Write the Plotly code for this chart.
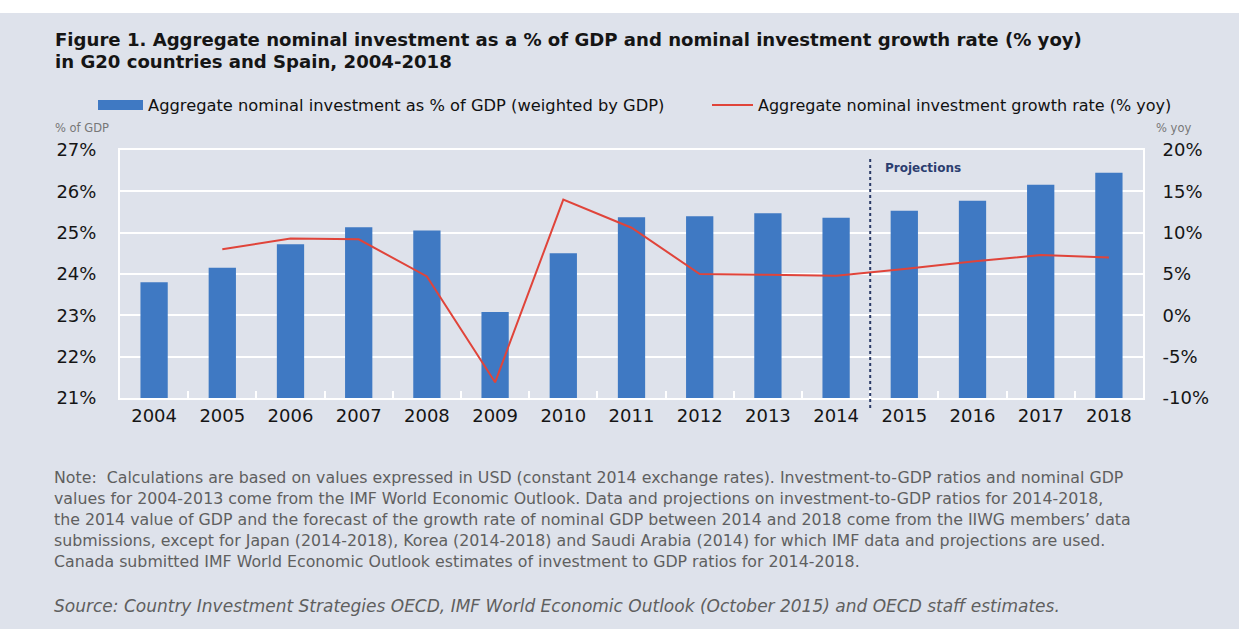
import plotly.graph_objects as go

years = ["2004", "2005", "2006", "2007", "2008", "2009", "2010", "2011",
         "2012", "2013", "2014", "2015", "2016", "2017", "2018"]
invest_pct_gdp = [23.8, 24.15, 24.72, 25.13, 25.05, 23.08, 24.5, 25.37,
                  25.4, 25.47, 25.36, 25.53, 25.77, 26.16, 26.45]
growth_yoy = [None, 8.0, 9.3, 9.2, 4.7, -8.1, 14.0, 10.6,
              5.0, 4.9, 4.8, 5.6, 6.5, 7.3, 7.0]
left_ticks = [21, 22, 23, 24, 25, 26, 27]
left_labels = ["21%", "22%", "23%", "24%", "25%", "26%", "27%"]
right_ticks = [-10, -5, 0, 5, 10, 15, 20]
right_labels = ["-10%", "-5%", "0%", "5%", "10%", "15%", "20%"]

title_lines = [
    "Figure 1. Aggregate nominal investment as a % of GDP and nominal investment growth rate (% yoy)",
    "in G20 countries and Spain, 2004-2018",
]
legend_bar = "Aggregate nominal investment as % of GDP (weighted by GDP)"
legend_line = "Aggregate nominal investment growth rate (% yoy)"
note_lines = [
    "Note:  Calculations are based on values expressed in USD (constant 2014 exchange rates). Investment-to-GDP ratios and nominal GDP",
    "values for 2004-2013 come from the IMF World Economic Outlook. Data and projections on investment-to-GDP ratios for 2014-2018,",
    "the 2014 value of GDP and the forecast of the growth rate of nominal GDP between 2014 and 2018 come from the IIWG members\u2019 data",
    "submissions, except for Japan (2014-2018), Korea (2014-2018) and Saudi Arabia (2014) for which IMF data and projections are used.",
    "Canada submitted IMF World Economic Outlook estimates of investment to GDP ratios for 2014-2018.",
]
source_line = "Source: Country Investment Strategies OECD, IMF World Economic Outlook (October 2015) and OECD staff estimates."

W, H = 1239, 629
L, R, T, B = 120, 1143, 150, 398
BG = "#dee2eb"
BAR = "#3f79c3"
RED = "#e0443a"
FONT = "DejaVu Sans"


def xp(px):
    return (px - L) / (R - L)


def yp(py):
    return (B - py) / (B - T)


fig = go.Figure()
fig.add_trace(go.Bar(x=years, y=invest_pct_gdp, marker=dict(color=BAR, line=dict(width=0)),
                     name=legend_bar, yaxis="y"))
fig.add_trace(go.Scatter(x=years, y=growth_yoy, mode="lines", line=dict(color=RED, width=2),
                         name=legend_line, yaxis="y2", connectgaps=False))

ann = []
ann.append(dict(text="<b>" + title_lines[0] + "</b>", x=xp(53), y=yp(39), xanchor="left", yanchor="middle",
                font=dict(family=FONT, size=18.1, color="#151515")))
ann.append(dict(text="<b>" + title_lines[1] + "</b>", x=xp(53), y=yp(61), xanchor="left", yanchor="middle",
                font=dict(family=FONT, size=18.1, color="#151515")))
ann.append(dict(text=legend_bar, x=xp(146), y=yp(105), xanchor="left", yanchor="middle",
                font=dict(family=FONT, size=16.3, color="#111111")))
ann.append(dict(text=legend_line, x=xp(756), y=yp(105), xanchor="left", yanchor="middle",
                font=dict(family=FONT, size=16, color="#111111")))
ann.append(dict(text="% of GDP", x=xp(53), y=yp(128), xanchor="left", yanchor="middle",
                font=dict(family=FONT, size=11.5, color="#777777")))
ann.append(dict(text="% yoy", x=xp(1154), y=yp(128), xanchor="left", yanchor="middle",
                font=dict(family=FONT, size=11.5, color="#777777")))
ann.append(dict(text="<b>Projections</b>", x=xp(883), y=yp(168), xanchor="left", yanchor="middle",
                font=dict(family=FONT, size=12, color="#2c3e70")))
note_y = [477, 498, 519, 540, 561]
for line, yy in zip(note_lines, note_y):
    ann.append(dict(text=line, x=xp(52), y=yp(yy), xanchor="left", yanchor="middle",
                    font=dict(family=FONT, size=15.8, color="#5f5f5f")))
ann.append(dict(text="<i>" + source_line + "</i>", x=xp(52), y=yp(606), xanchor="left", yanchor="middle",
                font=dict(family=FONT, size=17, color="#5f5f5f")))
for a in ann:
    a.update(xref="paper", yref="paper", showarrow=False)

shapes = [
    # white strip at top of the image
    dict(type="rect", xref="paper", yref="paper", x0=xp(0), x1=xp(W), y0=yp(13), y1=yp(0),
         fillcolor="white", line=dict(width=0), layer="below"),
    # legend swatches
    dict(type="rect", xref="paper", yref="paper", x0=xp(98), x1=xp(143), y0=yp(110), y1=yp(100),
         fillcolor=BAR, line=dict(width=0)),
    dict(type="line", xref="paper", yref="paper", x0=xp(712), x1=xp(753), y0=yp(105), y1=yp(105),
         line=dict(color=RED, width=2)),
    # projections divider
    dict(type="line", xref="x", yref="paper", x0=10.5, x1=10.5, y0=yp(408), y1=yp(158),
         line=dict(color="#2a3a66", width=2, dash="dot")),
]

fig.update_layout(
    width=W, height=H,
    margin=dict(l=L, r=W - R, t=T, b=H - B, pad=0),
    paper_bgcolor=BG, plot_bgcolor=BG,
    showlegend=False,
    bargap=0.6,
    annotations=ann,
    shapes=shapes,
    font=dict(family=FONT, color="#1a1a1a"),
    xaxis=dict(type="category", showgrid=False, showline=True, linecolor="white", linewidth=2,
               ticks="inside", tickson="boundaries", ticklen=7, tickcolor="white", tickwidth=2,
               tickfont=dict(family=FONT, size=18, color="#151515"), ticklabelstandoff=0,
               mirror=True, zeroline=False),
    yaxis=dict(range=[21, 27], tickvals=left_ticks, ticktext=left_labels, showgrid=True,
               gridcolor="white", gridwidth=2, showline=True, linecolor="white", linewidth=2,
               tickfont=dict(family=FONT, size=18, color="#151515"), ticks="",
               ticklabelstandoff=18, zeroline=False),
    yaxis2=dict(range=[-10, 20], tickvals=right_ticks, ticktext=right_labels, overlaying="y",
                side="right", showgrid=False, showline=True, linecolor="white", linewidth=2,
                tickfont=dict(family=FONT, size=18, color="#151515"), ticks="",
                ticklabelstandoff=14, zeroline=False),
)

fig.write_html("out.html")
